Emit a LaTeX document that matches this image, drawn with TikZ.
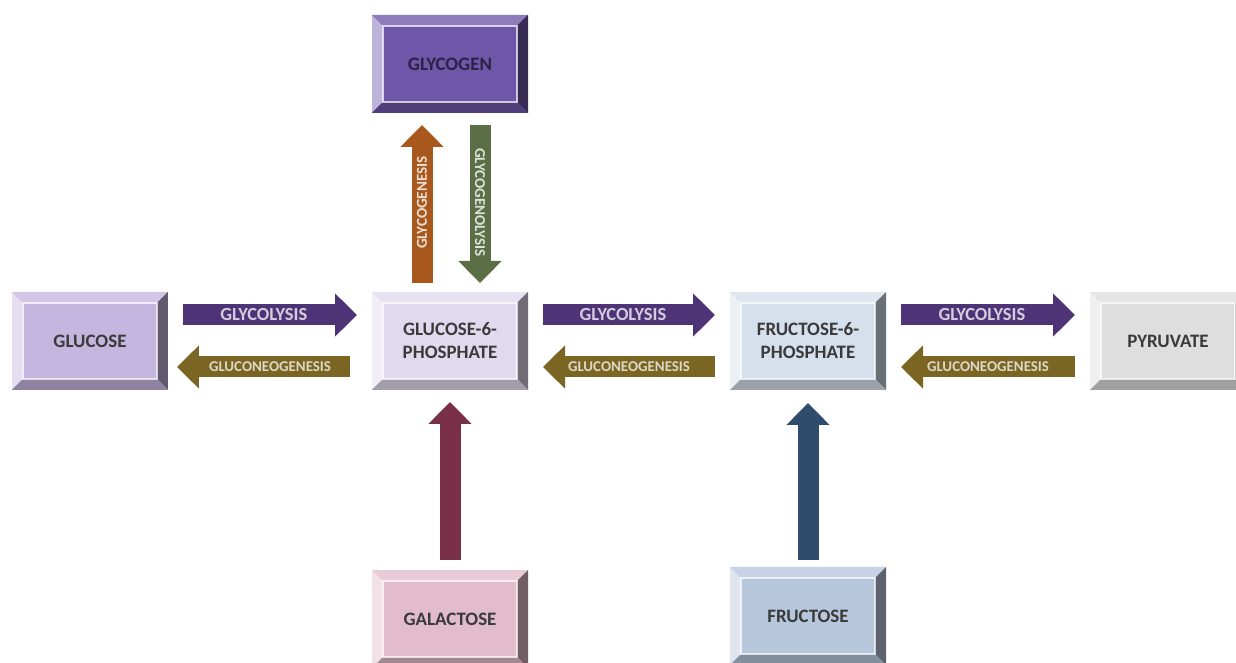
\documentclass[tikz,border=0pt]{standalone}
\usepackage{fontspec}
\setmainfont{Carlito}
\usetikzlibrary{
arrows.meta,
positioning
}
\definecolor{glycogenfill}{HTML}{6E56A8}
\definecolor{glucosefill}{HTML}{C4B6DE}
\definecolor{gsixpfill}{HTML}{E0DAEE}
\definecolor{fsixpfill}{HTML}{D6DFEC}
\definecolor{pyruvatefill}{HTML}{DEDEDE}
\definecolor{galactosefill}{HTML}{E2BCCA}
\definecolor{fructosefill}{HTML}{B7C7DC}
\definecolor{glycolysiscol}{HTML}{4E3476}
\definecolor{gluconeocol}{HTML}{7B6522}
\definecolor{genesiscol}{HTML}{A8581C}
\definecolor{lysiscol}{HTML}{5B6E45}
\definecolor{galarrow}{HTML}{7A2F48}
\definecolor{frucarrow}{HTML}{2F4C6C}
\definecolor{boxtext}{HTML}{3A3A3A}

% bevelled frame round a named box
\newcommand{\bevel}[2]{%
  \fill[#2!45!white] (#1.south west) -- (#1.north west) -- ([shift={(0.22,-0.22)}]#1.north west) -- ([shift={(0.22,0.22)}]#1.south west) -- cycle;
  \fill[#2!78!white] (#1.north west) -- (#1.north east) -- ([shift={(-0.22,-0.22)}]#1.north east) -- ([shift={(0.22,-0.22)}]#1.north west) -- cycle;
  \fill[#2!50!black] (#1.north east) -- (#1.south east) -- ([shift={(-0.22,0.22)}]#1.south east) -- ([shift={(-0.22,-0.22)}]#1.north east) -- cycle;
  \fill[#2!72!black] (#1.south east) -- (#1.south west) -- ([shift={(0.22,0.22)}]#1.south west) -- ([shift={(-0.22,0.22)}]#1.south east) -- cycle;
  \draw[white, opacity=0.7, line width=0.6pt] ([shift={(0.22,0.22)}]#1.south west) rectangle ([shift={(-0.22,-0.22)}]#1.north east);
}

\begin{document}
\begin{tikzpicture}[
stage/.style={
rectangle,
fill=#1,
minimum width=3.12cm,
minimum height=1.96cm,
inner sep=0pt,
outer sep=0pt,
align=center,
text=boxtext,
font=\bfseries\fontsize{10.8}{13}\selectfont
},
flow/.style={
line width=0.42cm,
-{Triangle[length=0.44cm,width=0.84cm]},
shorten <=0.3cm,
shorten >=0.3cm
},
fwdlabel/.style={
inner sep=0pt,
font=\bfseries\fontsize{10.5}{12}\selectfont
},
backlabel/.style={
inner sep=0pt,
font=\bfseries\fontsize{8.5}{10}\selectfont
},
vlabel/.style={
inner sep=0pt,
font=\bfseries\fontsize{8.6}{10}\selectfont
}
]
\useasboundingbox (-9.0,-6.44) rectangle (15.72,6.82);

\node[stage=gsixpfill] (gsixp) {GLUCOSE-6-\\PHOSPHATE};
\node[stage=glucosefill, left=4.08cm of gsixp] (glucose) {GLUCOSE};
\node[stage=fsixpfill, right=4.04cm of gsixp] (fsixp) {FRUCTOSE-6-\\PHOSPHATE};
\node[stage=pyruvatefill, right=4.08cm of fsixp] (pyruvate) {PYRUVATE};
\node[stage=glycogenfill, above=3.58cm of gsixp, text=glycogenfill!40!black] (glycogen) {GLYCOGEN};
\node[stage=galactosefill, below=3.6cm of gsixp] (galactose) {GALACTOSE};
\node[stage=fructosefill, below=3.54cm of fsixp] (fructose) {FRUCTOSE};

\bevel{gsixp}{gsixpfill}
\bevel{glucose}{glucosefill}
\bevel{fsixp}{fsixpfill}
\bevel{pyruvate}{pyruvatefill}
\bevel{glycogen}{glycogenfill}
\bevel{galactose}{galactosefill}
\bevel{fructose}{fructosefill}

% glucose <-> glucose-6-phosphate
\draw[flow, glycolysiscol] ([yshift=0.52cm]glucose.east) -- node[fwdlabel, pos=0.47, text=glycolysiscol!25!white] {GLYCOLYSIS} ([yshift=0.52cm]gsixp.west);
\draw[flow, gluconeocol, shorten <=0.44cm, shorten >=0.18cm] ([yshift=-0.52cm]gsixp.west) -- node[backlabel, text=gluconeocol!25!white] {GLUCONEOGENESIS} ([yshift=-0.52cm]glucose.east);

% glucose-6-phosphate <-> fructose-6-phosphate
\draw[flow, glycolysiscol] ([yshift=0.52cm]gsixp.east) -- node[fwdlabel, pos=0.47, text=glycolysiscol!25!white] {GLYCOLYSIS} ([yshift=0.52cm]fsixp.west);
\draw[flow, gluconeocol] ([yshift=-0.52cm]fsixp.west) -- node[backlabel, text=gluconeocol!25!white] {GLUCONEOGENESIS} ([yshift=-0.52cm]gsixp.east);

% fructose-6-phosphate <-> pyruvate
\draw[flow, glycolysiscol] ([yshift=0.52cm]fsixp.east) -- node[fwdlabel, pos=0.47, text=glycolysiscol!25!white] {GLYCOLYSIS} ([yshift=0.52cm]pyruvate.west);
\draw[flow, gluconeocol] ([yshift=-0.52cm]pyruvate.west) -- node[backlabel, text=gluconeocol!25!white] {GLUCONEOGENESIS} ([yshift=-0.52cm]fsixp.east);

% glycogen
\draw[flow, genesiscol, shorten <=0.18cm, shorten >=0.24cm] ([xshift=-0.56cm]gsixp.north) -- node[vlabel, rotate=90, text=genesiscol!20!white] {GLYCOGENESIS} ([xshift=-0.56cm]glycogen.south);
\draw[flow, lysiscol, shorten <=0.24cm, shorten >=0.18cm] ([xshift=0.6cm]glycogen.south) -- node[vlabel, rotate=-90, text=lysiscol!20!white] {GLYCOGENOLYSIS} ([xshift=0.6cm]gsixp.north);

% feeders
\draw[flow, galarrow, shorten <=0.2cm, shorten >=0.24cm] (galactose) -- (gsixp);
\draw[flow, frucarrow, shorten <=0.14cm, shorten >=0.26cm] (fructose) -- (fsixp);

\end{tikzpicture}
\end{document}
